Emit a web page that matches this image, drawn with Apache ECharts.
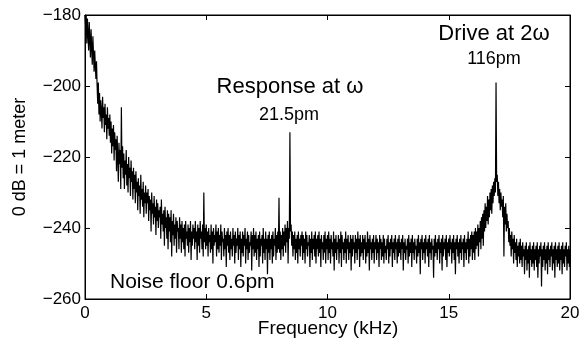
<!DOCTYPE html>
<html>
<head>
<meta charset="utf-8">
<script src="https://cdn.jsdelivr.net/npm/echarts@6/dist/echarts.min.js"></script>
<style>
html,body{margin:0;padding:0;background:#fff;}
#chart{width:586px;height:347px;}
</style>
</head>
<body>
<div id="chart"></div>
<script>
// Sample spacing of the spectrum (kHz)
const freqStepKHz = 0.025;
// Displacement spectrum in dB (0 dB = 1 meter), one value per 0.025 kHz from 0 to 20 kHz
const noiseDb = [
  -180,-183,-180,-188,-181,-185,-190,-182,-187,-192,-184,-189,-194,-186,-191,-196,-190,-194,-198,-193, // 0.0
  -200,-205,-199,-208,-202,-210,-204,-207,-212,-203,-209,-206,-213,-205,-211,-208,-215,-206,-212,-209, // 0.5
  -214,-208,-216,-210,-219,-212,-217,-211,-221,-213,-218,-215,-224,-214,-220,-227,-216,-222,-218,-229, // 1.0
  -206,-223,-217,-226,-219,-229,-221,-225,-218,-228,-222,-230,-220,-226,-223,-231,-221,-227,-224,-232, // 1.5
  -223,-229,-225,-233,-224,-230,-227,-235,-226,-231,-228,-236,-225,-232,-229,-234,-227,-237,-230,-233, // 2.0
  -228,-236,-230,-233,-229,-238,-231,-235,-232,-241,-230,-236,-233,-239,-231,-237,-234,-242,-232,-238, // 2.5
  -233,-240,-235,-237,-234,-243,-232,-239,-236,-241,-235,-245,-234,-240,-237,-243,-235,-246,-236,-241, // 3.0
  -237,-244,-235,-248,-238,-242,-236,-245,-239,-243,-237,-247,-238,-241,-240,-246,-237,-243,-239,-247, // 3.5
  -238,-244,-240,-246,-239,-248,-238,-243,-241,-245,-239,-247,-240,-244,-238,-249,-241,-245,-239,-243, // 4.0
  -240,-246,-238,-244,-241,-249,-239,-245,-240,-247,-238,-243,-241,-246,-239,-248,-230,-244,-240,-246, // 4.5
  -239,-245,-241,-248,-240,-244,-242,-247,-239,-246,-241,-250,-240,-245,-242,-244,-239,-248,-241,-246, // 5.0
  -240,-247,-242,-245,-239,-249,-241,-244,-243,-248,-240,-246,-242,-251,-241,-245,-240,-247,-242,-249, // 5.5
  -241,-246,-243,-248,-240,-245,-242,-250,-241,-247,-243,-245,-240,-249,-242,-246,-241,-251,-243,-247, // 6.0
  -241,-248,-242,-245,-240,-250,-243,-246,-241,-249,-242,-247,-244,-245,-241,-252,-242,-246,-240,-248, // 6.5
  -242,-247,-241,-249,-243,-246,-242,-251,-241,-248,-243,-245,-242,-250,-240,-247,-243,-249,-241,-246, // 7.0
  -243,-253,-242,-247,-241,-249,-243,-246,-242,-250,-241,-248,-243,-245,-240,-249,-242,-247,-241,-246, // 7.5
  -231.5,-247,-241,-249,-242,-246,-240,-248,-241,-245,-239,-247,-240,-244,-238,-250,-240,-243,-213,-241, // 8.0
  -239,-245,-241,-248,-242,-246,-241,-249,-243,-247,-242,-250,-241,-246,-243,-248,-242,-245,-241,-249, // 8.5
  -242,-247,-243,-250,-241,-246,-242,-248,-244,-245,-242,-251,-243,-247,-241,-249,-243,-246,-242,-248, // 9.0
  -241,-250,-243,-246,-242,-248,-241,-247,-243,-251,-242,-246,-244,-249,-242,-247,-241,-250,-243,-246, // 9.5
  -242,-249,-241,-247,-243,-250,-242,-246,-244,-248,-241,-252,-243,-247,-242,-249,-244,-246,-242,-250, // 10.0
  -243,-247,-241,-251,-242,-246,-244,-249,-243,-247,-241,-250,-243,-246,-242,-249,-244,-247,-242,-252, // 10.5
  -243,-248,-242,-246,-244,-250,-242,-247,-243,-249,-241,-246,-243,-251,-242,-248,-244,-247,-242,-249, // 11.0
  -243,-246,-242,-250,-244,-248,-241,-247,-243,-252,-242,-246,-244,-249,-243,-247,-242,-250,-244,-246, // 11.5
  -242,-249,-243,-247,-244,-251,-242,-246,-243,-249,-244,-248,-242,-250,-243,-247,-245,-249,-243,-246, // 12.0
  -242,-250,-244,-248,-243,-246,-242,-251,-244,-247,-243,-249,-242,-246,-244,-250,-243,-248,-242,-247, // 12.5
  -244,-249,-243,-246,-242,-252,-244,-247,-243,-249,-245,-246,-243,-250,-242,-248,-244,-247,-243,-251, // 13.0
  -242,-247,-244,-249,-243,-246,-245,-250,-243,-248,-242,-247,-244,-253,-243,-246,-242,-249,-244,-247, // 13.5
  -243,-250,-242,-246,-244,-248,-243,-251,-242,-247,-244,-249,-243,-246,-245,-254,-243,-248,-242,-247, // 14.0
  -244,-249,-243,-246,-242,-250,-244,-247,-243,-252,-242,-248,-244,-246,-243,-249,-242,-251,-244,-247, // 14.5
  -243,-248,-242,-246,-244,-250,-243,-247,-242,-249,-244,-253,-243,-246,-242,-248,-244,-250,-243,-247, // 15.0
  -242,-249,-244,-246,-243,-251,-242,-247,-244,-249,-243,-246,-241,-250,-243,-248,-242,-246,-241,-249, // 15.5
  -242,-247,-241,-249,-240,-246,-241,-245,-239,-248,-240,-244,-238,-246,-237,-243,-236,-245,-235,-241, // 16.0
  -233,-240,-234,-238,-231,-239,-232,-237,-230,-235,-229,-236,-228,-233,-227,-231,-226,-230,-199,-227, // 16.5
  -225,-231,-227,-233,-229,-235,-230,-234,-232,-237,-231,-248,-234,-239,-233,-241,-236,-240,-238,-244, // 17.0
  -240,-245,-242,-248,-241,-246,-243,-250,-242,-247,-244,-249,-243,-251,-245,-248,-244,-250,-243,-249, // 17.5
  -245,-251,-244,-248,-246,-253,-245,-249,-244,-252,-246,-250,-245,-254,-244,-249,-246,-251,-245,-250, // 18.0
  -244,-252,-246,-249,-245,-251,-244,-254,-246,-250,-245,-248,-244,-256.5,-246,-251,-245,-249,-244,-252, // 18.5
  -246,-250,-245,-253,-244,-249,-246,-251,-245,-248,-244,-252,-246,-250,-245,-254,-244,-249,-246,-251, // 19.0
  -245,-250,-244,-252,-246,-249,-245,-253,-244,-250,-246,-251,-245,-248,-244,-252,-246,-250,-245,-251, // 19.5
  -246 // 20.0
];
const xTicks = [0, 5, 10, 15, 20];
const yTicks = [-260, -240, -220, -200, -180];
const xTitle = 'Frequency (kHz)';
const yTitle = '0 dB = 1 meter';
const annotations = [
  { text: 'Response at ω', x: 290, y: 86.5, size: 22, align: 'center' },
  { text: '21.5pm', x: 289, y: 115, size: 18, align: 'center' },
  { text: 'Drive at 2ω', x: 494, y: 33.5, size: 22, align: 'center' },
  { text: '116pm', x: 494, y: 59.5, size: 18, align: 'center' },
  { text: 'Noise floor 0.6pm', x: 110, y: 282, size: 21, align: 'left' }
];

const FONT = 'Liberation Sans, Arial, Helvetica, sans-serif';
const chart = echarts.init(document.getElementById('chart'));
const data = noiseDb.map((v, i) => [i * freqStepKHz, v]);
const minus = v => String(v).replace('-', '\u2212');

function axisLine() { return { show: true, onZero: false, lineStyle: { color: '#000', width: 1 } }; }
function axisTick() { return { show: true, inside: true, length: 5, lineStyle: { color: '#000', width: 1 } }; }

const graphics = annotations.map(a => ({
  type: 'text', x: a.x, y: a.y,
  style: { text: a.text, fill: '#000', font: a.size + 'px ' + FONT, align: a.align, verticalAlign: 'middle' }
}));
graphics.push({
  type: 'text', x: 328, y: 329,
  style: { text: xTitle, fill: '#000', font: '19px ' + FONT, align: 'center', verticalAlign: 'middle' }
});
graphics.push({
  type: 'text', x: 20, y: 157, rotation: Math.PI / 2,
  style: { text: yTitle, fill: '#000', font: '18px ' + FONT, align: 'center', verticalAlign: 'middle' }
});

chart.setOption({
  animation: false,
  backgroundColor: '#fff',
  grid: { left: 85, right: 16, top: 15, bottom: 48, show: true, borderColor: '#000', borderWidth: 1 },
  xAxis: [{
    type: 'value', min: xTicks[0], max: xTicks[xTicks.length - 1], interval: 5,
    axisLine: axisLine(), axisTick: axisTick(),
    axisLabel: { color: '#000', fontSize: 17, fontFamily: FONT, margin: 6 },
    splitLine: { show: false }
  }, {
    type: 'value', min: xTicks[0], max: xTicks[xTicks.length - 1], interval: 5, position: 'top',
    axisLine: axisLine(), axisTick: axisTick(),
    axisLabel: { show: false }, splitLine: { show: false }
  }],
  yAxis: [{
    type: 'value', min: yTicks[0], max: yTicks[yTicks.length - 1], interval: 20,
    axisLine: axisLine(), axisTick: axisTick(),
    axisLabel: { color: '#000', fontSize: 17, fontFamily: FONT, margin: 4, formatter: minus },
    splitLine: { show: false }
  }, {
    type: 'value', min: yTicks[0], max: yTicks[yTicks.length - 1], interval: 20, position: 'right',
    axisLine: axisLine(), axisTick: axisTick(),
    axisLabel: { show: false }, splitLine: { show: false }
  }],
  series: [{
    type: 'line',
    data: data,
    showSymbol: false, symbol: 'none',
    clip: true,
    lineStyle: { color: '#000', width: 1.2 }
  }],
  graphic: graphics
});
</script>
</body>
</html>
